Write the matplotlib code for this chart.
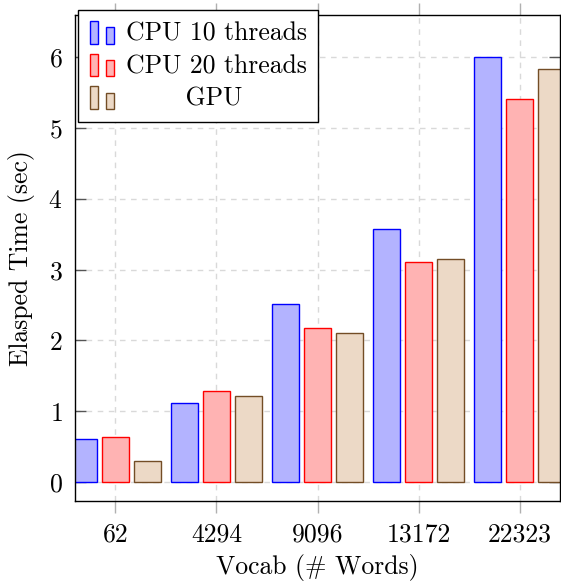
import matplotlib
matplotlib.use("Agg")
import matplotlib.pyplot as plt
from matplotlib.patches import Rectangle
from matplotlib.legend_handler import HandlerBase
import numpy as np

plt.rcParams['font.family'] = ['cmr10', 'DejaVu Serif']
plt.rcParams['mathtext.fontset'] = 'cm'
plt.rcParams['axes.formatter.use_mathtext'] = True

categories = ["62", "4294", "9096", "13172", "22323"]
cpu10 = [0.61, 1.11, 2.52, 3.58, 6.00]
cpu20 = [0.63, 1.29, 2.17, 3.11, 5.41]
gpu = [0.29, 1.21, 2.10, 3.15, 5.83]
series_labels = ["CPU 10 threads", "CPU 20 threads", "GPU"]

fills = ["#b3b3ff", "#ffb3b3", "#ecd9c6"]
edges = ["#0000ff", "#ff0000", "#734d26"]

FS = 18.5

fig = plt.figure(figsize=(5.61, 5.83), dpi=100)
ax = fig.add_axes([75/561, 1-501/583, (560-75)/561, (501-15)/583])

x = np.arange(len(categories))
w = 0.265
shift = 0.315
bars = []
for i, (vals, fc, ec) in enumerate(zip([cpu10, cpu20, gpu], fills, edges)):
    b = ax.bar(x + (i-1)*shift, vals, width=w, color=fc, edgecolor=ec,
               linewidth=1.0, zorder=3, label=series_labels[i])
    bars.append(b)

ax.set_xlim(-0.4, 4.4)
ax.set_ylim(-0.27, 6.6)
ax.set_xticks(x)
ax.set_xticklabels(categories)
ax.set_yticks(range(0, 7))
ax.grid(True, color="#d9d9d9", linestyle=(0, (4, 4)), linewidth=1.0, zorder=0)
ax.set_axisbelow(True)
for s in ax.spines.values():
    s.set_linewidth(1.0)
    s.set_zorder(5)

ax.tick_params(axis='x', direction='out', length=8.5, width=1, color='#b0b0b0',
               top=True, labelsize=FS, pad=7.5)
ax.tick_params(axis='y', direction='in', length=8, width=1, color='#555555',
               right=True, labelsize=FS, pad=9)
ax.set_xlabel("Vocab (# Words)", fontsize=FS, labelpad=5)
ax.set_ylabel("Elasped Time (sec)", fontsize=FS, labelpad=10)


class BarHandler(HandlerBase):
    def create_artists(self, legend, orig_handle, xdescent, ydescent, width,
                       height, fontsize, trans):
        fc = orig_handle.get_facecolor()
        ec = orig_handle.get_edgecolor()
        y0 = -ydescent - 2.5
        r1 = Rectangle((0, y0), 6, 16.5, facecolor=fc, edgecolor=ec,
                       linewidth=1.0, transform=trans)
        r2 = Rectangle((11.5, y0), 6, 12, facecolor=fc, edgecolor=ec,
                       linewidth=1.0, transform=trans)
        return [r1, r2]


handles = [b.patches[0] for b in bars]
labels = ["CPU 10 threads", "CPU 20 threads", "       GPU"]
leg = fig.legend(handles, labels, loc='upper left',
                 bbox_to_anchor=(78/561, 1-10/583), bbox_transform=fig.transFigure,
                 fontsize=FS, handler_map={Rectangle: BarHandler()},
                 handlelength=1.1, handletextpad=0.3, borderpad=0.45,
                 labelspacing=0.35, fancybox=False, framealpha=1,
                 edgecolor='black', borderaxespad=0)
leg.get_frame().set_linewidth(1.0)
leg.set_zorder(10)

fig.savefig("out.png", dpi=100)
